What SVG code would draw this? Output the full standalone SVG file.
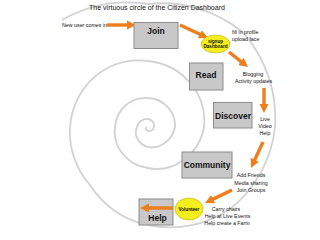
<svg xmlns="http://www.w3.org/2000/svg" width="320" height="240" viewBox="0 0 320 240">
<style>
text{font-family:"Liberation Sans",Arial,sans-serif;fill:#111}
.title{font-size:7px}
.small{font-size:5.3px}
.box{fill:#c8c8c8;stroke:#8c8c8c;stroke-width:1}
.lbl{font-size:8.5px;font-weight:bold;text-anchor:middle}
.ell{fill:#f4ef1c;stroke:#b5ac10;stroke-width:0.6}
.etx{font-size:4.6px;font-weight:bold;text-anchor:middle}
.arr{stroke:#ee7d1d;stroke-width:3.4;fill:none;marker-end:url(#ah)}
.mid{text-anchor:middle}
</style>
<defs>
<marker id="ah" markerUnits="userSpaceOnUse" markerWidth="10" markerHeight="10" viewBox="0 0 10 10" refX="3" refY="5" orient="auto">
<path d="M0,0.5 L9,5 L0,9.5 z" fill="#ee7d1d"/>
</marker>
</defs>
<rect width="320" height="240" fill="#ffffff"/>
<path id="spiral" fill="none" stroke="#d2d2d2" stroke-width="1.8" d="M62 20 A134 134 0 0 1 148 4 A128 128 0 0 1 242.8 32.2 A130 130 0 0 1 275 127 A120 120 0 0 1 230 209 A106 106 0 0 1 148 225 A90 90 0 0 1 90 185 A80 80 0 0 1 70 127 A75 75 0 0 1 96.4 75.4 A69 69 0 0 1 148 61 A63 63 0 0 1 191 84 A58 58 0 0 1 204 127 A52 52 0 0 1 182 161 A44 44 0 0 1 148 168 A39 39 0 0 1 122 153 A35 35 0 0 1 115 127 A32 32 0 0 1 126 105 A30 30 0 0 1 148 98 A28 28 0 0 1 167.8 107.2 A27 27 0 0 1 175 127 A25 25 0 0 1 164.3 143.3 A21 21 0 0 1 148 147 A17 17 0 0 1 137 138 A13 13 0 0 1 137 127 A10 10 0 0 1 141.6 120.6 A8.5 8.5 0 0 1 148 119 A7.5 7.5 0 0 1 153 122 A6.5 6.5 0 0 1 154 127 A5.5 5.5 0 0 1 151.5 130.5 A4.5 4.5 0 0 1 148 131 A3.5 3.5 0 0 1 146 129 A2.5 2.5 0 0 1 146 127"/>
<text class="title" x="157" y="9.5" text-anchor="middle">The virtuous circle of the Citizen Dashboard</text>
<g id="connectors">
<line class="arr" x1="107" y1="25" x2="130" y2="25"/>
<line class="arr" x1="180" y1="25" x2="202.6" y2="35.5"/>
<line class="arr" x1="229" y1="52" x2="243.3" y2="63.3"/>
<line class="arr" x1="264" y1="88" x2="264" y2="107"/>
<line class="arr" x1="263" y1="142" x2="253.5" y2="162.5"/>
<line class="arr" x1="232" y1="190" x2="210.4" y2="200.4"/>
</g>
<g id="newuser"><text class="small" x="62" y="27">New user comes in</text></g>
<g id="join"><rect class="box" x="134" y="22.5" width="44" height="26"/><text class="lbl" x="156" y="33.5">Join</text></g>
<g id="signup"><ellipse class="ell" cx="215.5" cy="44" rx="14.5" ry="9"/><text class="etx" x="215.5" y="42.5">signup</text><text class="etx" x="215.5" y="48.3">Dashboard</text></g>
<g id="profile"><text class="small" x="232" y="34.3">fill in profile</text><text class="small" x="232" y="41">upload face</text></g>
<g id="read"><rect class="box" x="189.5" y="63" width="33.5" height="27"/><text class="lbl" x="206" y="78">Read</text></g>
<g id="blogging"><text class="small mid" x="253" y="76">Blogging</text><text class="small mid" x="253.5" y="83">Activity updates</text></g>
<g id="discover"><rect class="box" x="213.5" y="102.5" width="38.5" height="25.5"/><text class="lbl" x="233" y="119">Discover</text></g>
<g id="live"><text class="small mid" x="265" y="121">Live</text><text class="small mid" x="265" y="128">Video</text><text class="small mid" x="265" y="135">Help</text></g>
<g id="community"><rect class="box" x="182" y="152" width="50" height="26"/><text class="lbl" x="207" y="168">Community</text></g>
<g id="friends"><text class="small mid" x="251" y="177">Add Friends</text><text class="small mid" x="251" y="184.5">Media sharing</text><text class="small mid" x="251" y="192">Join Groups</text></g>
<g id="help"><rect class="box" x="139" y="199" width="34" height="26"/><line class="arr" x1="173" y1="208" x2="146" y2="208"/><text class="lbl" x="157.5" y="221">Help</text></g>
<g id="volunteer"><ellipse class="ell" cx="189" cy="209" rx="14" ry="11"/><text class="etx" x="189" y="210.6">Volunteer</text></g>
<g id="carry"><text class="small mid" x="226" y="210.5">Carry chairs</text><text class="small mid" x="227.5" y="217.5">Help at Live Events</text><text class="small mid" x="227" y="224.5">Help create a Farm</text></g>
</svg>
